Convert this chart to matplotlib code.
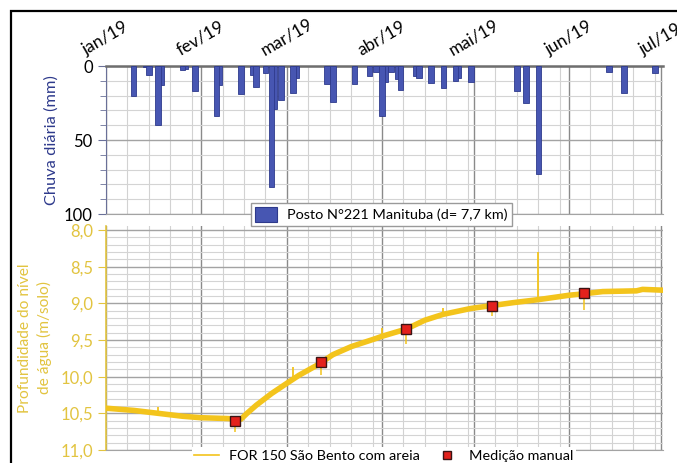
import matplotlib
matplotlib.use("Agg")
import matplotlib.pyplot as plt
import matplotlib.dates as mdates
import numpy as np
from matplotlib.patches import Rectangle, Patch
from matplotlib.lines import Line2D

plt.rcParams['font.family'] = ['Lato', 'DejaVu Sans']

# chuva diaria (mm) - posto 221 Manituba
rain_dates = ['2019-01-10', '2019-01-14', '2019-01-15', '2019-01-18', '2019-01-19',
              '2019-01-26', '2019-01-27', '2019-01-30', '2019-02-06', '2019-02-07',
              '2019-02-14', '2019-02-18', '2019-02-19', '2019-02-22', '2019-02-24',
              '2019-02-25', '2019-02-27', '2019-03-03', '2019-03-04', '2019-03-14',
              '2019-03-16', '2019-03-23', '2019-03-28', '2019-03-30', '2019-04-01',
              '2019-04-02', '2019-04-04', '2019-04-06', '2019-04-07', '2019-04-12',
              '2019-04-13', '2019-04-17', '2019-04-21', '2019-04-25', '2019-04-26',
              '2019-04-30', '2019-05-15', '2019-05-18', '2019-05-22', '2019-06-14',
              '2019-06-19', '2019-06-29']
rain_mm = [20, 1, 6, 40, 13,
           3, 2, 17, 34, 13,
           19, 6, 14, 5, 82,
           29, 23, 18, 8, 12,
           24, 12, 6.5, 4, 34,
           10.6, 4, 8.7, 16, 6.5,
           8.3, 11.7, 15, 9.9, 8,
           10.7, 17, 25, 73, 4,
           18, 5]

# nivel d'agua FOR 150 (m abaixo do solo)
level_dates = ['2019-01-01', '2019-01-10', '2019-01-18', '2019-01-26', '2019-02-01',
               '2019-02-09', '2019-02-14', '2019-02-16', '2019-02-19', '2019-02-24',
               '2019-03-01', '2019-03-05', '2019-03-11', '2019-03-16', '2019-03-22',
               '2019-03-30', '2019-04-01', '2019-04-09', '2019-04-15', '2019-04-21',
               '2019-04-30', '2019-05-07', '2019-05-14', '2019-05-22', '2019-06-01',
               '2019-06-06', '2019-06-12', '2019-06-23', '2019-06-25', '2019-07-01']
level_m = [10.43, 10.46, 10.50, 10.54, 10.56,
           10.57, 10.58, 10.50, 10.39, 10.23,
           10.09, 9.98, 9.84, 9.70, 9.59,
           9.48, 9.45, 9.35, 9.23, 9.15,
           9.07, 9.03, 8.99, 8.95, 8.89,
           8.87, 8.84, 8.83, 8.81, 8.82]

# picos isolados do sensor
spike_dates = ['2019-01-18', '2019-03-03', '2019-04-01', '2019-04-21', '2019-05-22']
spike_base = [10.50, 10.04, 9.45, 9.15, 8.95]
spike_tip = [10.41, 9.87, 9.33, 9.06, 8.30]

# medicoes manuais
manual_dates = ['2019-02-12', '2019-03-12', '2019-04-09', '2019-05-07', '2019-06-06']
manual_m = [10.60, 9.80, 9.35, 9.04, 8.86]
manual_tip = [10.75, 9.98, 9.55, 9.17, 9.09]

month_labels = ['jan/19', 'fev/19', 'mar/19', 'abr/19', 'mai/19', 'jun/19', 'jul/19']
month_dates = ['2019-01-01', '2019-02-01', '2019-03-01', '2019-04-01',
               '2019-05-01', '2019-06-01', '2019-07-01']
depth_ticks = [8.0, 8.5, 9.0, 9.5, 10.0, 10.5, 11.0]

YEL = '#F3C41C'
YEL_TXT = '#E2C440'
BLUE = '#4756B2'
NAVY = '#2E3A8C'
RED = '#E3211C'


def dn(lst):
    return mdates.date2num(np.array(lst, dtype='datetime64[D]'))


W, H = 677, 463


def box(x0, y0, x1, y1):
    return [x0 / W, 1 - y1 / H, (x1 - x0) / W, (y1 - y0) / H]


fig = plt.figure(figsize=(6.77, 4.63), dpi=100)
ax1 = fig.add_axes(box(106, 66, 662.5, 214))
ax2 = fig.add_axes(box(106, 226.3, 662.5, 450))

x0 = dn(['2019-01-01'])[0]
x1 = dn(['2019-07-01'])[0] + 0.5

for ax in (ax1, ax2):
    ax.set_xlim(x0, x1)
    ax.xaxis.set_major_locator(mdates.MonthLocator())
    ax.xaxis.set_minor_locator(mdates.DayLocator(bymonthday=[8, 15, 22, 29]))
    ax.grid(which='major', axis='x', color='#8A8A8A', lw=1.0)
    ax.grid(which='minor', axis='x', color='#D2D2D2', lw=0.8)
    ax.tick_params(axis='x', which='both', length=0)
    ax.spines['right'].set_visible(False)
    ax.set_axisbelow(True)

# chuva
order = np.argsort(rain_mm)
rd = dn(rain_dates)[order]
rv = np.array(rain_mm)[order]
ax1.bar(rd, rv, width=1.8, color=BLUE, edgecolor=NAVY, lw=0.6, zorder=3)
ax1.set_ylim(100, 0)
ax1.set_yticks([0, 50, 100])
ax1.set_yticks(np.arange(0, 101, 10), minor=True)
ax1.grid(which='major', axis='y', color='#A3A3A3', lw=1.0)
ax1.grid(which='minor', axis='y', color='#D4D4D4', lw=0.8)
ax1.tick_params(axis='y', which='both', direction='out', color='#6A7098', labelsize=12)
ax1.tick_params(axis='y', which='major', length=6)
ax1.tick_params(axis='y', which='minor', length=4)
ax1.spines['left'].set_color('#6A7098')
ax1.spines['top'].set_color('#6E6E6E')
ax1.spines['top'].set_linewidth(1.8)
ax1.spines['bottom'].set_color('#A3A3A3')
ax1.set_xticks(dn(month_dates))
ax1.set_xticklabels(month_labels)
ax1.tick_params(axis='x', top=True, labeltop=True, bottom=False, labelbottom=False,
                pad=6, labelsize=12.5)
for lab in ax1.get_xticklabels():
    lab.set_rotation(30)
    lab.set_ha('center')

# nivel
ax2.plot(dn(level_dates), level_m, color=YEL, lw=4.0, zorder=3)
ax2.vlines(dn(spike_dates), spike_base, spike_tip, color=YEL, lw=1.3, zorder=3)
ax2.vlines(dn(manual_dates), manual_m, manual_tip, color=YEL, lw=1.1, zorder=3)
ax2.plot(dn(manual_dates), manual_m, 's', ms=6.5, mfc=RED, mec='#3B1414', mew=1.0, zorder=5)
ax2.set_ylim(11.0, 7.95)
ax2.set_yticks(depth_ticks)
ax2.set_yticklabels([f'{v:.1f}'.replace('.', ',') for v in depth_ticks])
ax2.set_yticks(np.arange(8.0, 11.01, 0.1), minor=True)
ax2.grid(which='major', axis='y', color='#A3A3A3', lw=1.0)
ax2.grid(which='minor', axis='y', color='#D4D4D4', lw=0.8)
ax2.tick_params(axis='y', which='major', direction='out', length=6, color=YEL_TXT,
                labelcolor=YEL_TXT, labelsize=12)
ax2.tick_params(axis='y', which='minor', length=0)
ax2.tick_params(axis='x', labelbottom=False)
ax2.spines['left'].set_color(YEL_TXT)
ax2.spines['left'].set_linewidth(1.2)
ax2.spines['top'].set_visible(False)
ax2.spines['bottom'].set_color('#A3A3A3')

fig.text(52 / W, 1 - 140 / H, 'Chuva diária (mm)', rotation=90, ha='center', va='center',
         color=NAVY, fontsize=11.8)
fig.text(35 / W, 1 - 338 / H, 'Profundidade do nível\nde água (m/solo)', rotation=90,
         ha='center', va='center', multialignment='center', linespacing=1.45,
         color=YEL_TXT, fontsize=11.2)

fig.legend(handles=[Patch(fc=BLUE, ec=NAVY, lw=0.8)],
           labels=['Posto N°221 Manituba (d= 7,7 km)'],
           loc='center', bbox_to_anchor=(381.5 / W, 1 - 214.5 / H),
           fontsize=10.4, fancybox=False, edgecolor='#9A9A9A', framealpha=1,
           handlelength=1.5, handleheight=1.2, borderpad=0.3, handletextpad=0.7)

fig.legend(handles=[Line2D([], [], color=YEL, lw=1.2),
                    Line2D([], [], marker='s', ls='none', ms=6, mfc=RED, mec='#3B1414')],
           labels=['FOR 150 São Bento com areia', 'Medição manual'],
           ncol=2, loc='center', bbox_to_anchor=(384 / W, 1 - 456 / H),
           fontsize=10.4, fancybox=False, edgecolor='none', framealpha=1,
           handlelength=1.7, columnspacing=1.0, borderpad=0.2, handletextpad=0.7)

fig.add_artist(Rectangle((11 / W, -0.1), 2, 1.1 - 11 / H, transform=fig.transFigure,
                         fill=False, ec='black', lw=1.6))

fig.savefig('out.png', dpi=100)
